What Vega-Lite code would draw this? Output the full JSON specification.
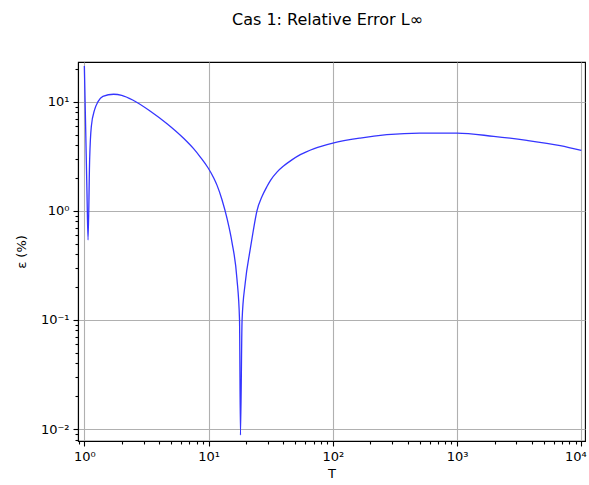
{
  "$schema": "https://vega.github.io/schema/vega-lite/v6.json",
  "width": 507,
  "height": 379,
  "autosize": {"type": "none"},
  "padding": {"left": 78, "top": 62, "right": 4, "bottom": 44},
  "background": "white",
  "title": {"text": "Cas 1: Relative Error L∞", "font": "DejaVu Sans", "fontSize": 16, "fontWeight": "normal", "color": "black", "offset": 34, "anchor": "middle", "dx": -4},
  "config": {
    "font": "DejaVu Sans",
    "view": {"stroke": "black", "strokeWidth": 1.1}
  },
  "data": {"values": [
    {"T": 1.0, "err": 21.2},
    {"T": 1.024, "err": 5.9},
    {"T": 1.05, "err": 1.46},
    {"T": 1.071, "err": 0.54},
    {"T": 1.103, "err": 2.94},
    {"T": 1.138, "err": 5.93},
    {"T": 1.21, "err": 8.45},
    {"T": 1.288, "err": 10.0},
    {"T": 1.41, "err": 11.2},
    {"T": 1.72, "err": 11.7},
    {"T": 2.0, "err": 11.45},
    {"T": 2.49, "err": 10.26},
    {"T": 3.4, "err": 8.18},
    {"T": 4.63, "err": 6.28},
    {"T": 6.29, "err": 4.62},
    {"T": 7.57, "err": 3.71},
    {"T": 8.58, "err": 3.11},
    {"T": 9.89, "err": 2.48},
    {"T": 11.0, "err": 2.0},
    {"T": 11.7, "err": 1.71},
    {"T": 12.8, "err": 1.27},
    {"T": 14.1, "err": 0.843},
    {"T": 15.4, "err": 0.52},
    {"T": 16.9, "err": 0.24},
    {"T": 17.74, "err": 0.1},
    {"T": 18.05, "err": 0.0088},
    {"T": 18.6, "err": 0.1},
    {"T": 19.7, "err": 0.217},
    {"T": 21.6, "err": 0.44},
    {"T": 22.9, "err": 0.66},
    {"T": 24.5, "err": 1.0},
    {"T": 26.9, "err": 1.35},
    {"T": 29.5, "err": 1.67},
    {"T": 31.6, "err": 1.91},
    {"T": 35.5, "err": 2.26},
    {"T": 40.1, "err": 2.57},
    {"T": 46.8, "err": 2.93},
    {"T": 54.7, "err": 3.27},
    {"T": 70.8, "err": 3.72},
    {"T": 100, "err": 4.17},
    {"T": 166, "err": 4.64},
    {"T": 272, "err": 4.98},
    {"T": 500, "err": 5.16},
    {"T": 1000, "err": 5.16},
    {"T": 1970, "err": 4.81},
    {"T": 3640, "err": 4.42},
    {"T": 6760, "err": 3.95},
    {"T": 10000, "err": 3.57}
  ]},
  "mark": {"type": "line", "color": "#3535ff", "strokeWidth": 1.3, "interpolate": "monotone"},
  "encoding": {
    "x": {
      "field": "T", "type": "quantitative",
      "scale": {"type": "log", "domain": [0.889, 10700], "nice": false, "zero": false},
      "axis": {
        "title": "T", "titleFont": "DejaVu Sans", "titleFontSize": 13, "titleFontWeight": "normal", "titleColor": "black", "titlePadding": 4,
        "values": [0.9, 1, 2, 3, 4, 5, 6, 7, 8, 9, 10, 20, 30, 40, 50, 60, 70, 80, 90, 100, 200, 300, 400, 500, 600, 700, 800, 900, 1000, 2000, 3000, 4000, 5000, 6000, 7000, 8000, 9000, 10000],
        "labelExpr": "abs(log(datum.value)/LN10 - round(log(datum.value)/LN10)) > 0.001 ? '' : round(log(datum.value)/LN10) == 0 ? '10⁰' : round(log(datum.value)/LN10) == 1 ? '10¹' : round(log(datum.value)/LN10) == 2 ? '10²' : round(log(datum.value)/LN10) == 3 ? '10³' : '10⁴'",
        "labelFont": "DejaVu Sans", "labelFontSize": 13, "labelColor": "black",
        "labelOverlap": false, "labelFlush": false, "labelPadding": 4,
        "labelOffset": {"condition": {"test": "datum.value == 10000", "value": -6}, "value": 0},
        "domainColor": "black", "domainWidth": 1.1,
        "tickColor": "black", "tickWidth": 1.1,
        "tickSize": {"condition": {"test": "abs(log(datum.value)/LN10 - round(log(datum.value)/LN10)) < 0.001", "value": 5}, "value": 3},
        "grid": true, "gridColor": "#b0b0b0", "gridWidth": 1.1,
        "gridOpacity": {"condition": {"test": "abs(log(datum.value)/LN10 - round(log(datum.value)/LN10)) < 0.001", "value": 1}, "value": 0}
      }
    },
    "y": {
      "field": "err", "type": "quantitative",
      "scale": {"type": "log", "domain": [0.00777, 23.1], "nice": false, "zero": false},
      "axis": {
        "title": "ε  (%)", "titleFont": "DejaVu Sans", "titleFontSize": 13, "titleFontWeight": "normal", "titleColor": "black", "titlePadding": 12,
        "values": [0.008, 0.009, 0.01, 0.02, 0.03, 0.04, 0.05, 0.06, 0.07, 0.08, 0.09, 0.1, 0.2, 0.3, 0.4, 0.5, 0.6, 0.7, 0.8, 0.9, 1, 2, 3, 4, 5, 6, 7, 8, 9, 10, 20],
        "labelExpr": "abs(log(datum.value)/LN10 - round(log(datum.value)/LN10)) > 0.001 ? '' : round(log(datum.value)/LN10) == -2 ? '10⁻²' : round(log(datum.value)/LN10) == -1 ? '10⁻¹' : round(log(datum.value)/LN10) == 0 ? '10⁰' : '10¹'",
        "labelFont": "DejaVu Sans", "labelFontSize": 13, "labelColor": "black",
        "labelOverlap": false, "labelFlush": false, "labelPadding": 4,
        "domainColor": "black", "domainWidth": 1.1,
        "tickColor": "black", "tickWidth": 1.1,
        "tickSize": {"condition": {"test": "abs(log(datum.value)/LN10 - round(log(datum.value)/LN10)) < 0.001", "value": 5}, "value": 3},
        "grid": true, "gridColor": "#b0b0b0", "gridWidth": 1.1,
        "gridOpacity": {"condition": {"test": "abs(log(datum.value)/LN10 - round(log(datum.value)/LN10)) < 0.001", "value": 1}, "value": 0}
      }
    }
  }
}
